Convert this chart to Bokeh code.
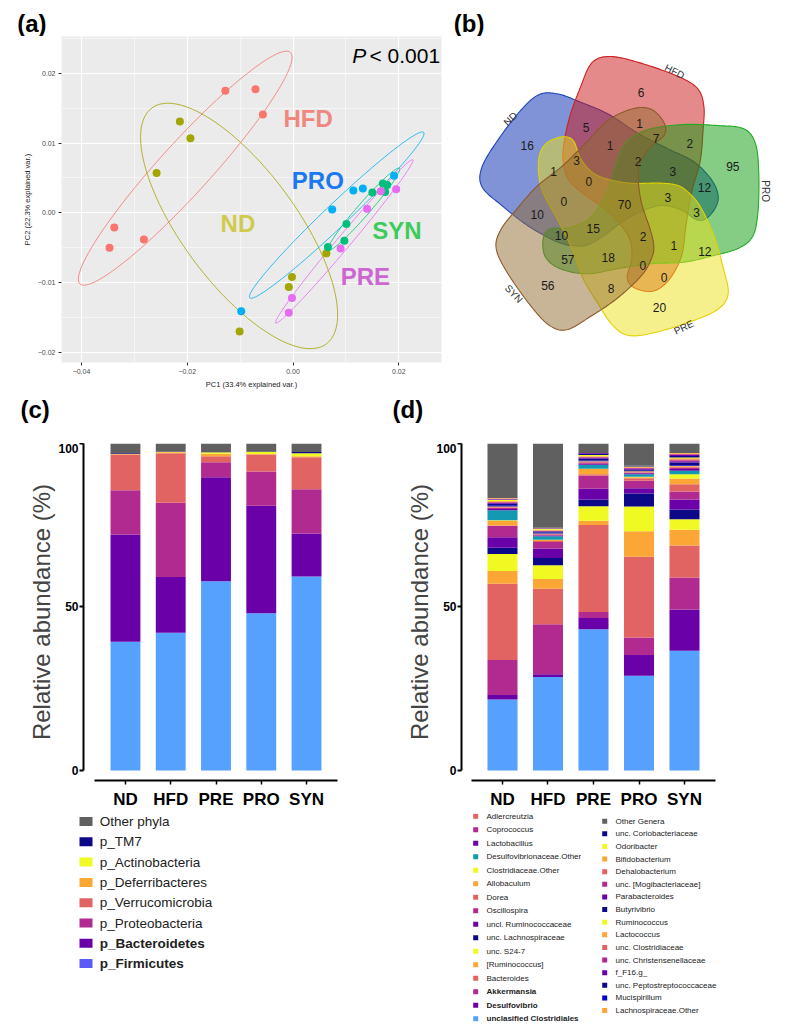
import numpy as np
from bokeh.plotting import figure
from bokeh.models import (ColumnDataSource, Range1d, FactorRange, FixedTicker,
                          Label, CustomJSTickFormatter)
from bokeh.layouts import row, column
from bokeh.embed import file_html
from bokeh.resources import INLINE
from bokeh.core.properties import value

FONT = "Liberation Sans"

groups = ["ND", "HFD", "PRE", "PRO", "SYN"]

# ---------------- (a) PCA scores ----------------
pc1_nd = [-0.0214, -0.0194, -0.0258, 0.0063, -0.0002, -0.0008, -0.0101]
pc2_nd = [0.0131, 0.0107, 0.0057, -0.0058, -0.0092, -0.0106, -0.0170]
pc1_hfd = [-0.0128, -0.0071, -0.0057, -0.0338, -0.0347, -0.0282]
pc2_hfd = [0.0175, 0.0177, 0.0141, -0.0021, -0.0050, -0.0038]
pc1_pre = [0.0166, 0.0195, 0.0140, 0.0090, -0.0002, -0.0008]
pc2_pre = [0.0031, 0.0034, 0.0006, -0.0051, -0.0122, -0.0143]
pc1_pro = [0.0114, 0.0132, 0.0074, 0.0191, -0.0098]
pc2_pro = [0.0032, 0.0035, 0.0005, 0.0053, -0.0141]
pc1_syn = [0.0150, 0.0170, 0.0178, 0.0174, 0.0101, 0.0097, 0.0066]
pc2_syn = [0.0029, 0.0042, 0.0040, 0.0030, -0.0016, -0.0040, -0.0049]
pc_x_label = "PC1 (33.4% explained var.)"
pc_y_label = "PC2 (22.3% explained var.)"
p_value_text = "< 0.001"

# ---------------- (b) Venn counts ----------------
venn_sets = ["PRO", "HFD", "ND", "SYN", "PRE"]
venn_counts = [6, 5, 1, 7, 2, 16, 1, 95, 3, 1, 2, 3, 0, 12, 0, 70,
               3, 3, 10, 15, 2, 10, 1, 12, 57, 18, 0, 0, 56, 8, 20]

# ---------------- (c) phyla (stack order bottom -> top) ----------------
phyla = ["p_Firmicutes", "p_Bacteroidetes", "p_Proteobacteria", "p_Verrucomicrobia",
         "p_Deferribacteres", "p_Actinobacteria", "p_TM7", "Other phyla"]
phylum_nd = [39.4, 32.8, 13.5, 10.9, 0.2, 0.0, 0.2, 3.0]
phylum_hfd = [42.1, 17.1, 22.7, 15.1, 0.3, 0.1, 0.1, 2.5]
phylum_pre = [57.9, 31.8, 4.6, 1.8, 0.8, 0.4, 0.1, 2.6]
phylum_pro = [48.1, 32.9, 10.4, 5.2, 0.2, 0.6, 0.1, 2.5]
phylum_syn = [59.3, 13.2, 13.5, 9.8, 0.3, 0.9, 0.4, 2.6]

# ---------------- (d) genera (stack order bottom -> top) ----------------
genera = ["unclasified Clostridiales", "Desulfovibrio", "Akkermansia", "Bacteroides",
          "[Ruminococcus]", "unc. S24-7", "unc. Lachnospiraceae", "uncl. Ruminococcaceae",
          "Oscillospira", "Dorea", "Allobaculum", "Clostridiaceae.Other",
          "Desulfovibrionaceae.Other", "Lactobacillus", "Coprococcus", "Adlercreutzia",
          "Lachnospiraceae.Other", "Mucispirillum", "unc. Peptostreptococcaceae", "f_F16.g_",
          "unc. Christensenellaceae", "unc. Clostridiaceae", "Lactococcus", "Ruminococcus",
          "Butyrivibrio", "Parabacteroides", "unc. [Mogibacteriaceae]", "Dehalobacterium",
          "Bifidobacterium", "Odoribacter", "unc. Coriobacteriaceae", "Other Genera"]
genus_nd = [21.7, 1.4, 10.7, 23.3, 3.9, 5.2, 1.9, 3.2, 3.5, 0.1, 1.5, 0.1, 3.1,
            0.4, 0.3, 0.2, 0.2, 0.4, 0.5, 0.2, 0.2, 0.2, 0.2, 0.4, 0.1, 0.1, 0.1,
            0.1, 0.1, 0.0, 0.0, 16.7]
genus_hfd = [28.6, 0.8, 15.3, 10.9, 3.0, 4.2, 2.2, 2.9, 2.0, 0.3, 0.3, 0.1, 1.0,
             0.3, 0.3, 0.1, 0.2, 0.3, 0.3, 0.1, 0.1, 0.1, 0.2, 0.3, 0.1, 0.1, 0.1,
             0.0, 0.0, 0.0, 0.0, 25.8]
genus_pre = [43.2, 3.4, 1.9, 26.6, 1.3, 4.4, 2.1, 3.3, 3.9, 0.5, 1.6, 0.1, 1.2,
             0.3, 0.3, 0.3, 0.2, 0.2, 0.6, 0.2, 0.2, 0.2, 0.1, 0.4, 0.4, 0.2, 0.0,
             0.0, 0.0, 0.0, 0.0, 2.9]
genus_pro = [29.0, 6.3, 5.4, 24.7, 7.8, 7.5, 4.0, 1.6, 2.3, 0.8, 0.3, 0.1, 0.8,
             0.3, 0.2, 0.1, 0.3, 0.2, 0.3, 0.3, 0.2, 0.1, 0.3, 0.1, 0.2, 0.0, 0.0,
             0.0, 0.0, 0.0, 0.0, 6.8]
genus_syn = [36.6, 12.6, 9.8, 9.8, 4.8, 3.2, 3.0, 3.1, 2.4, 2.2, 1.8, 1.3, 1.1,
             0.5, 0.4, 0.3, 0.3, 0.2, 0.8, 0.4, 0.3, 0.3, 0.3, 0.2, 0.5, 0.3, 0.2,
             0.2, 0.2, 0.0, 0.0, 2.9]
y_ticks_abund = [0, 50, 100]
bold_legend_labels = ["p_Bacteroidetes", "p_Firmicutes", "Akkermansia", "Desulfovibrio",
                      "unclasified Clostridiales"]

# ================= styles =================
pca_colors = {"ND": "#A3A500", "HFD": "#F8766D", "PRE": "#E76BF3", "PRO": "#00B0F6", "SYN": "#00BF7D"}
label_colors = {"ND": "#CFCB4C", "HFD": "#F0877F", "PRE": "#CC66D0", "PRO": "#1A78F0", "SYN": "#3ECB5C"}
PLASMA = {"blue": "#56A0FE", "purple": "#6A00A8", "mag": "#B12A90", "salmon": "#E16462",
          "orange": "#FCA636", "yellow": "#F0F921", "navy": "#0D0887", "gray": "#606060",
          "teal": "#1499B3", "royal": "#0000CC"}
phyla_colors = [PLASMA[k] for k in ["blue", "purple", "mag", "salmon", "orange", "yellow", "navy", "gray"]]
phyla_legend_colors = ["#5A5AF8"] + phyla_colors[1:]
genus_color_keys = ["blue", "purple", "mag", "salmon", "orange", "yellow", "navy", "purple",
                    "mag", "salmon", "orange", "yellow", "teal", "purple", "mag", "salmon",
                    "orange", "royal", "navy", "purple", "mag", "salmon", "orange", "yellow",
                    "navy", "purple", "mag", "salmon", "orange", "yellow", "navy", "gray"]
genus_colors = [PLASMA[k] for k in genus_color_keys]


def no_align(p):
    try:
        p.frame_align = False
    except Exception:
        pass
    return p


def blank_fig(w, h, xr, yr):
    p = figure(width=w, height=h, x_range=Range1d(*xr), y_range=Range1d(*yr),
               output_backend="svg", toolbar_location=None, min_border=0,
               x_axis_location=None, y_axis_location=None, title=None)
    p.grid.visible = False
    p.outline_line_color = None
    return no_align(p)


def ellipse_xy(xs, ys, prob=0.68, n=100):
    pts = np.column_stack([xs, ys])
    mu = pts.mean(axis=0)
    sigma = np.cov(pts, rowvar=False)
    L = np.linalg.cholesky(sigma)
    ed = np.sqrt(-2.0 * np.log(1.0 - prob))
    th = np.linspace(-np.pi, np.pi, n)
    circ = np.column_stack([np.cos(th), np.sin(th)])
    ell = circ @ L.T * ed + mu
    return ell[:, 0].tolist(), ell[:, 1].tolist()


# ================= header (a)/(b) =================
h1 = blank_fig(785, 36, (0, 785), (36, 0))
h1.text(x=[16.7, 453.3], y=[22.5, 22.5], text=["(a)", "(b)"], text_font=value(FONT),
        text_font_style="bold", text_font_size="24px", text_baseline="middle",
        text_color="black")

# ================= (a) =================
pa = figure(width=448, height=359, x_range=Range1d(-0.04378, 0.02807),
            y_range=Range1d(-0.02143, 0.02526), output_backend="svg",
            toolbar_location=None, min_border_left=61, min_border_right=7,
            min_border_top=0, min_border_bottom=33, title=None)
no_align(pa)
pa.background_fill_color = "#EBEBEB"
pa.outline_line_color = None
xt = FixedTicker(ticks=[-0.04, -0.02, 0.0, 0.02], minor_ticks=[-0.03, -0.01, 0.01])
yt = FixedTicker(ticks=[-0.02, -0.01, 0.0, 0.01, 0.02], minor_ticks=[-0.015, -0.005, 0.005, 0.015, 0.025])
pa.xaxis.ticker = xt
pa.yaxis.ticker = yt
pa.xgrid.ticker = xt
pa.ygrid.ticker = yt
for g in (pa.xgrid, pa.ygrid):
    g.grid_line_color = "white"
    g.grid_line_width = 1.1
    g.minor_grid_line_color = "white"
    g.minor_grid_line_width = 0.5
fmt = CustomJSTickFormatter(code="return (tick < -1e-12 ? '\\u2212' : '') + Math.abs(tick).toFixed(2);")
for ax in (pa.xaxis, pa.yaxis):
    ax.formatter = fmt
    ax.axis_line_color = None
    ax.major_tick_line_color = "#333333"
    ax.major_tick_out = 3
    ax.major_tick_in = 0
    ax.minor_tick_line_color = None
    ax.major_label_text_font = FONT
    ax.major_label_text_font_size = "7px"
    ax.major_label_text_color = "#4D4D4D"
    ax.major_label_standoff = 2
    ax.axis_label_text_font = FONT
    ax.axis_label_text_font_size = "7.5px"
    ax.axis_label_text_font_style = "normal"
    ax.axis_label_text_color = "#222222"
    ax.axis_label_standoff = 3
pa.xaxis.axis_label = pc_x_label
pa.yaxis.axis_label = pc_y_label

pca = {"HFD": (pc1_hfd, pc2_hfd), "ND": (pc1_nd, pc2_nd), "PRO": (pc1_pro, pc2_pro),
       "SYN": (pc1_syn, pc2_syn), "PRE": (pc1_pre, pc2_pre)}
for gname, (xs, ys) in pca.items():
    ex, ey = ellipse_xy(xs, ys)
    pa.line(ex, ey, line_color=pca_colors[gname], line_width=0.8)
for gname, (xs, ys) in pca.items():
    pa.scatter(xs, ys, size=8, fill_color=pca_colors[gname], line_color=None)

grp_label_pos = {"HFD": (0.00284, 0.01352), "PRO": (0.00469, 0.00461), "ND": (-0.01043, -0.00152),
                 "SYN": (0.01966, -0.00255), "PRE": (0.01367, -0.00917)}
lab_src = ColumnDataSource(dict(
    x=[grp_label_pos[g][0] for g in grp_label_pos],
    y=[grp_label_pos[g][1] for g in grp_label_pos],
    t=list(grp_label_pos.keys()),
    c=[label_colors[g] for g in grp_label_pos]))
pa.text(x="x", y="y", text="t", text_color="c", source=lab_src, text_font=value(FONT),
        text_font_style="bold", text_font_size="24px", text_align="center",
        text_baseline="middle")
pa.add_layout(Label(x=290.7, y=307.5, x_units="screen", y_units="screen", text="P",
                    text_font=FONT, text_font_style="italic", text_font_size="21px",
                    text_color="black", text_baseline="middle"))
pa.add_layout(Label(x=308, y=307.5, x_units="screen", y_units="screen", text=p_value_text,
                    text_font=FONT, text_font_size="21px", text_color="black",
                    text_baseline="middle"))

# ================= (b) Venn =================
VENN_SHAPE = np.array([
    (9.7, 63.3), (28, 71.7), (61.3, 76), (94.7, 75), (121.3, 71.7), (133, 56.7),
    (136.3, 26.7), (135.3, -13.3), (129.7, -36.7), (114.7, -48.3), (91.3, -55),
    (61.3, -61.7), (28, -63.3), (-5.3, -68.3), (-35.3, -73.3), (-62, -68.3),
    (-77, -56.7), (-79.3, -38.3), (-72, -28.3), (-52, -26.7), (-32, -16.7),
    (-15.3, 10), (-5.3, 40), (1.3, 55)])


def smooth_closed(P, n=14):
    N = len(P)
    out = []
    for i in range(N):
        p0, p1, p2, p3 = P[(i - 1) % N], P[i], P[(i + 1) % N], P[(i + 2) % N]
        for t in np.linspace(0, 1, n, endpoint=False):
            t2, t3 = t * t, t * t * t
            out.append(0.5 * ((2 * p1) + (-p0 + p2) * t + (2 * p0 - 5 * p1 + 4 * p2 - p3) * t2
                              + (-p0 + 3 * p1 - 3 * p2 + p3) * t3))
    return np.array(out)


venn_fill = {"ND": "#0027AD", "HFD": "#CB1515", "PRO": "#0B990B", "PRE": "#EBE119", "SYN": "#91692D"}
venn_line = {"ND": "#2244BB", "HFD": "#CC2222", "PRO": "#22AA22", "PRE": "#E0D200", "SYN": "#8B5A2B"}
pb = figure(width=337, height=359, x_range=Range1d(-174, 163), y_range=Range1d(-162, 164),
            output_backend="svg", toolbar_location=None, min_border_left=0, min_border_right=0,
            min_border_top=0, min_border_bottom=33,
            x_axis_location=None, y_axis_location=None, title=None)
no_align(pb)
pb.grid.visible = False
pb.outline_line_color = None
base = smooth_closed(VENN_SHAPE)
for name in ["ND", "HFD", "PRO", "PRE", "SYN"]:
    k = venn_sets.index(name)
    a = np.deg2rad(72 * k)
    xs = base[:, 0] * np.cos(a) - base[:, 1] * np.sin(a)
    ys = base[:, 0] * np.sin(a) + base[:, 1] * np.cos(a)
    pb.patch(xs.tolist(), ys.tolist(), fill_color=venn_fill[name], fill_alpha=0.5,
             line_color=venn_line[name], line_width=1.1)

venn_count_xy = [(18.7, 107.7), (-36.3, 73.3), (17, 77.3), (33.7, 62.3), (67.3, 57.3),
                 (-95.3, 54.7), (-12.3, 54.7), (110.3, 34.3), (-46, 40), (-69, 29),
                 (15.7, 38.7), (50.3, 29), (-33.7, 19), (82, 12.7), (-58.7, -1), (2, -4),
                 (45.3, 3.3), (74, -12.3), (-85.3, -13.7), (-29.3, -28.3), (20.7, -36),
                 (-61, -35.3), (51.3, -45.3), (82.3, -50.7), (-54.7, -59.3), (-14.3, -57),
                 (20.3, -65.3), (41.7, -77.3), (-74.7, -85), (-11.3, -87.7), (37, -107.3)]
vsrc = ColumnDataSource(dict(x=[p[0] for p in venn_count_xy], y=[p[1] for p in venn_count_xy],
                             t=[str(c) for c in venn_counts]))
pb.text(x="x", y="y", text="t", source=vsrc, text_font=value(FONT), text_font_size="12px",
        text_color="#1A1A1A", text_align="center", text_baseline="middle")
set_label_pos = {"HFD": (52, 129, -0.47), "ND": (-112, 81.7, 0.785), "PRO": (143, 9.3, -1.5708),
                 "SYN": (-108.7, -93.3, -0.80), "PRE": (61.3, -126.7, 0.44)}
ssrc = ColumnDataSource(dict(x=[v[0] for v in set_label_pos.values()],
                             y=[v[1] for v in set_label_pos.values()],
                             a=[v[2] for v in set_label_pos.values()],
                             t=list(set_label_pos.keys())))
pb.text(x="x", y="y", text="t", angle="a", source=ssrc, text_font=value(FONT),
        text_font_size="10px", text_color="#333333", text_align="center", text_baseline="middle")

# ================= header (c)/(d) =================
h2 = blank_fig(785, 48, (0, 785), (443, 395))
h2.text(x=[20, 392], y=[409, 409], text=["(c)", "(d)"], text_font=value(FONT),
        text_font_style="bold", text_font_size="24px", text_baseline="middle",
        text_color="black")


# ================= (c) & (d) bars =================
def style_bars(p, xbounds):
    no_align(p)
    p.grid.visible = False
    p.outline_line_color = None
    p.yaxis.bounds = (0, 100)
    p.yaxis.ticker = FixedTicker(ticks=y_ticks_abund)
    p.xaxis.bounds = xbounds
    for ax in (p.xaxis, p.yaxis):
        ax.axis_line_width = 2
        ax.axis_line_color = "black"
        ax.major_tick_line_width = 2
        ax.major_tick_line_color = "black"
        ax.major_tick_in = 0
        ax.minor_tick_line_color = None
        ax.major_label_text_font = FONT
        ax.major_label_text_font_style = "bold"
        ax.major_label_text_color = "black"
    p.yaxis.major_tick_out = 4
    p.yaxis.major_label_standoff = 1
    p.yaxis.major_label_text_font_size = "12px"
    p.xaxis.major_tick_out = 4
    p.xaxis.major_tick_line_width = 1.5
    p.xaxis.major_label_standoff = 5
    p.xaxis.major_label_text_font_size = "17px"
    p.yaxis.axis_label = "Relative abundance (%)"
    p.yaxis.axis_label_text_font = FONT
    p.yaxis.axis_label_text_font_size = "24px"
    p.yaxis.axis_label_text_font_style = "normal"
    p.yaxis.axis_label_standoff = 0


pc = figure(width=393, height=370, output_backend="svg", toolbar_location=None, title=None,
            x_range=FactorRange(factors=groups, range_padding=0.427, range_padding_units="absolute"),
            y_range=Range1d(-3.06, 100), min_border_left=83, min_border_right=45,
            min_border_top=0, min_border_bottom=33)
style_bars(pc, (-0.184, 5.184))
phy_cols = {"group": groups}
for i in range(len(phyla)):
    phy_cols[f"s{i}"] = [phylum_nd[i], phylum_hfd[i], phylum_pre[i], phylum_pro[i], phylum_syn[i]]
src_c = ColumnDataSource(phy_cols)
pc.vbar_stack([f"s{i}" for i in range(len(phyla))], x="group", width=0.66,
              color=phyla_colors, line_color=None, source=src_c)

pd_ = figure(width=392, height=370, output_backend="svg", toolbar_location=None, title=None,
             x_range=FactorRange(factors=groups, range_padding=0.401, range_padding_units="absolute"),
             y_range=Range1d(-3.06, 100), min_border_left=68, min_border_right=60,
             min_border_top=0, min_border_bottom=33)
style_bars(pd_, (-0.181, 5.181))
gen_cols = {"group": groups}
for i in range(len(genera)):
    gen_cols[f"g{i}"] = [genus_nd[i], genus_hfd[i], genus_pre[i], genus_pro[i], genus_syn[i]]
src_d = ColumnDataSource(gen_cols)
pd_.vbar_stack([f"g{i}" for i in range(len(genera))], x="group", width=0.66,
               color=genus_colors, line_color=None, source=src_d)

# ================= legends (c)/(d) =================
lg = blank_fig(785, 216, (0, 785), (1029, 813))
c_order = list(range(len(phyla) - 1, -1, -1))
c_src = ColumnDataSource(dict(
    y=[821 + 20.3 * k for k in range(len(c_order))],
    c=[phyla_legend_colors[i] for i in c_order],
    t=[phyla[i] for i in c_order],
    st=["bold" if phyla[i] in bold_legend_labels else "normal" for i in c_order]))
lg.rect(x=85.5, y="y", width=13, height=9, width_units="screen", height_units="screen",
        fill_color="c", line_color=None, source=c_src)
lg.text(x=99.3, y="y", text="t", text_font_style="st", source=c_src, text_font=value(FONT),
        text_font_size="13.5px", text_color="#222222", text_baseline="middle")
col1_idx = list(range(15, -1, -1))
col2_idx = list(range(31, 15, -1))
d_src1 = ColumnDataSource(dict(
    y=[815.7 + 13.5 * k for k in range(len(col1_idx))],
    c=[genus_colors[i] for i in col1_idx],
    t=[genera[i] for i in col1_idx],
    st=["bold" if genera[i] in bold_legend_labels else "normal" for i in col1_idx]))
d_src2 = ColumnDataSource(dict(
    y=[820.7 + 12.62 * k for k in range(len(col2_idx))],
    c=[genus_colors[i] for i in col2_idx],
    t=[genera[i] for i in col2_idx],
    st=["bold" if genera[i] in bold_legend_labels else "normal" for i in col2_idx]))
for src, sx, tx in ((d_src1, 475.2, 486), (d_src2, 604.2, 615)):
    lg.rect(x=sx, y="y", width=5, height=5, width_units="screen", height_units="screen",
            fill_color="c", line_color=None, source=src)
    lg.text(x=tx, y="y", text="t", text_font_style="st", source=src, text_font=value(FONT),
            text_font_size="8px", text_color="#222222", text_baseline="middle")

layout = column(h1, row(pa, pb), h2, row(pc, pd_), lg)
open("out.html", "w").write(file_html(layout, INLINE))
